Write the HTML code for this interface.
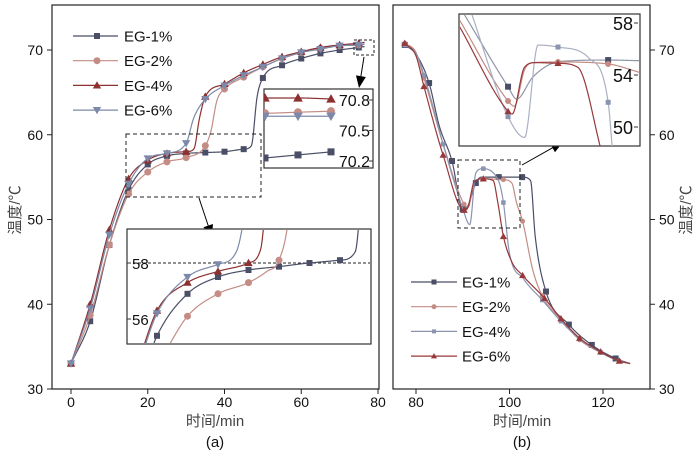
<!DOCTYPE html>
<html><head><meta charset="utf-8"><style>
html,body{margin:0;padding:0;background:#fff;}
svg{display:block;font-family:"Liberation Sans","Noto Sans CJK SC",sans-serif;}
</style></head><body>
<svg id="chart" width="700" height="453" viewBox="0 0 700 453" xmlns="http://www.w3.org/2000/svg">
<defs>
<clipPath id="clipA1"><rect x="264" y="90" width="109" height="77"/></clipPath>
<clipPath id="clipA2"><rect x="128" y="230" width="242" height="113"/></clipPath>
<clipPath id="clipB1"><rect x="460" y="15" width="180" height="131"/></clipPath>
</defs>
<g id="root"></g>
</svg>
<script>
// ---------- Panel (a) heating data ----------
const aTicksX = [0, 20, 40, 60, 80];
const aTicksY = [30, 40, 50, 60, 70];
const aMarkT = [0,5,10,15,20,25,30,35,40,45,50,55,60,65,70,75];
const a1T = [0,5,10,15,20,25,30,35,40,45,47,48.5,50,55,60,65,70,75,76.5];
const a1V = [33,38,47,53.5,56.5,57.5,57.8,57.9,58,58.3,58.7,64.5,66.7,68.2,69,69.6,70,70.3,70.4];
const a2T = [0,5,10,15,20,25,30,35,36.5,38,40,45,50,55,60,65,70,75,76.5];
const a2V = [33,38.7,47,53,55.6,56.8,57.3,58.7,60.5,64,65.4,66.8,68,69,69.7,70.2,70.5,70.6,70.7];
const a4T = [0,5,10,15,20,25,30,32,33.5,35,40,45,50,55,60,65,70,75,76.5];
const a4V = [33,40,48.8,54.8,57,57.8,58,58.3,62,64.5,66,67.3,68.3,69.2,69.8,70.3,70.6,70.8,70.9];
const a6T = [0,5,10,15,20,25,30,32,35,40,45,50,55,60,65,70,75,76.5];
const a6V = [33,39.5,48.2,54.2,57.2,57.8,59,62,64.2,65.8,67,68,69,69.7,70.1,70.5,70.6,70.7];
// inset a1 (around 70.2-70.8)
const i1Labels = [70.8, 70.5, 70.2];
const i1T = [72,73,74,75];
const i1V1 = [70.2,70.23,70.26,70.29];
const i1V2 = [70.67,70.67,70.68,70.69];
const i1V4 = [70.81,70.82,70.82,70.81];
const i1V6 = [70.63,70.64,70.64,70.64];
const i1Mark = [73,74,75];
// inset a2 (plateau)
const i2Labels = [58, 56];
const i2T1 = [18.5,20,25,30,35,40,45,50,52.5,53.5,54.5];
const i2V1 = [54.5,55.4,56.9,57.5,57.75,57.87,58.0,58.1,58.4,60.5,63];
const i2M1 = [20,25,30,35,40,45,50];
const i2T2 = [21,25,30,35,38,40,41.5,42.5];
const i2V2 = [54.7,56.1,56.9,57.3,57.7,58.1,59.5,62];
const i2M2 = [25,30,35,40];
const i2T4 = [17,20,25,30,35,37,38,39];
const i2V4 = [54.5,56.3,57.3,57.7,58.0,58.5,60.5,62];
const i2M4 = [20,25,30,35];
const i2T6 = [17.2,20,25,30,33,34.5,35.5];
const i2V6 = [54.5,56.2,57.5,57.95,58.4,60,62];
const i2M6 = [20,25,30];
// ---------- Panel (b) cooling data ----------
const bTicksX = [80, 100, 120];
const bTicksY = [30, 40, 50, 60, 70];
const b1T = [77.6,80,82.8,85,87.7,90,91,92.8,94,97.7,102.7,104.5,105.5,107.8,112.7,117.6,122.7,125.8];
const b1V = [70.6,69.5,66.1,61,56.9,51.2,51.5,54.3,55,55,55,54.6,48,41.5,37.6,35.2,33.6,33.0];
const b1M = [77.6,82.8,87.7,90,92.8,97.7,102.7,107.8,112.7,117.6,122.7];
const b2T = [77.6,80,81.7,85.8,90.3,91.2,92.5,94.4,98.7,100.5,101.5,102.8,105,107,111,115,119.5,123.5,125.8];
const b2V = [70.8,69.7,66.7,58.9,51.8,51.5,54.5,54.8,54.7,54.3,52,49.8,44,41,38.2,35.8,34.3,33.3,33.0];
const b2M = [77.6,81.7,85.8,90.3,94.4,98.7,102.8,107,111,115,119.5,123.5];
const b4T = [77.6,80,82,86,90,91.5,92.8,94.4,97,98,98.7,100,103,107,111,115,119.5,123,125.8];
const b4V = [70.6,69.6,66.5,58.5,51.3,49.4,55.5,56.0,55.2,54,52,46,43,40.5,38,35.9,34.3,33.4,33.0];
const b4M = [77.6,81.7,85.8,94.4,98.7,107,111,115,119.5];
const b6T = [77.6,80,81.7,85.8,90.3,91,92.5,94.4,96.5,97.5,98.7,100.5,102.8,107.5,111,115,119.5,123.5,125.8];
const b6V = [70.8,69.3,65.7,57.6,51.1,51.3,54.5,54.8,54.6,52,48,45,43.4,40.7,38.3,36,34.4,33.3,33.0];
const b6M = [77.6,81.7,85.8,90.3,94.4,98.7,102.8,107.5,111,115,119.5,123.5];
// inset b1
const j1Labels = [58, 54, 50];
const j1T = [88.3,92.34,93.1,94.5,96,98,101.2,104];
const j1V = [58.9,53.1,52.15,53.8,54.8,55.1,55.15,55.1];
const j1M = [92.34,101.2];
const j2T = [88,92.34,92.9,93.8,94.6,96.76,101.2,104];
const j2V = [58.3,52.0,51.6,54.4,54.95,55.0,54.85,54.2];
const j2M = [92.34,96.76,101.2];
const j4T = [89,92.34,93.8,95.0,96.76,99.5,101.2,101.6];
const j4V = [59,50.8,49.2,56.3,56.15,55.3,51.9,48];
const j4M = [92.34,96.76,101.2];
const j6T = [88,92.34,92.7,93.8,94.8,96.76,98.5,100.65];
const j6V = [57.8,51.2,51.0,54.6,54.95,54.9,54.6,48];
const j6M = [92.34,96.76];

const C1='#4a4e66', C2='#c48c84', C4='#8c3030', C6='#7d89aa', C4b='#8a93b0', C6b='#98383a';
const NS='http://www.w3.org/2000/svg';
const root=document.getElementById('root');
function el(tag,attrs,parent){const e=document.createElementNS(NS,tag);for(const k in attrs)e.setAttribute(k,attrs[k]);(parent||root).appendChild(e);return e;}
function spline(xs,ys){
  const n=xs.length,d=[],m=[];
  for(let i=0;i<n-1;i++)d.push((ys[i+1]-ys[i])/(xs[i+1]-xs[i]));
  m[0]=d[0];m[n-1]=d[n-2];
  for(let i=1;i<n-1;i++){m[i]=(d[i-1]*d[i]<=0)?0:(d[i-1]+d[i])/2;}
  for(let i=0;i<n-1;i++){if(d[i]===0){m[i]=0;m[i+1]=0;continue;}const a=m[i]/d[i],b=m[i+1]/d[i],s=a*a+b*b;if(s>9){const t=3/Math.sqrt(s);m[i]=t*a*d[i];m[i+1]=t*b*d[i];}}
  return function(x){let i=0;while(i<n-2&&x>xs[i+1])i++;const h=xs[i+1]-xs[i],t=(x-xs[i])/h,t2=t*t,t3=t2*t;
    return (2*t3-3*t2+1)*ys[i]+(t3-2*t2+t)*h*m[i]+(-2*t3+3*t2)*ys[i+1]+(t3-t2)*h*m[i+1];};
}
function marker(g,type,x,y,c,s){
  let e;
  if(type==='sq')e=el('rect',{x:x-s/2,y:y-s/2,width:s,height:s,fill:c},g);
  else if(type==='ci')e=el('circle',{cx:x,cy:y,r:s/2,fill:c},g);
  else if(type==='up')e=el('path',{d:`M${x},${y-s*0.6}L${x+s*0.6},${y+s*0.45}L${x-s*0.6},${y+s*0.45}Z`,fill:c},g);
  else e=el('path',{d:`M${x},${y+s*0.6}L${x+s*0.6},${y-s*0.45}L${x-s*0.6},${y-s*0.45}Z`,fill:c},g);
  
  
}
function arrow(x1,y1,x2,y2,name){
  const g=el('g',{});
  
  
  const dx=x2-x1,dy=y2-y1,L=Math.hypot(dx,dy),ux=dx/L,uy=dy/L,h=12,w=5;
  const bx=x2-ux*h,by=y2-uy*h;
  el('line',{x1:x1,y1:y1,x2:bx,y2:by,stroke:'#000','stroke-width':1},g);
  el('path',{d:`M${x2},${y2}L${bx-uy*w},${by+ux*w}L${bx+uy*w},${by-ux*w}Z`,fill:'#000'},g);
}
function series(name,xs,ys,mts,sx,sy,c,type,ms,clip,lc){
  const g=el('g',clip?{'clip-path':'url(#'+clip+')'}:{});
  
  
  const f=spline(xs,ys);let d='';
  const x0=xs[0],x1=xs[xs.length-1],N=400;
  for(let k=0;k<=N;k++){const x=x0+(x1-x0)*k/N;d+=(k?'L':'M')+sx(x).toFixed(2)+','+sy(f(x)).toFixed(2);}
  const p=el('path',{d:d,fill:'none',stroke:lc||c,'stroke-width':1.2},g);
  
  
  mts.forEach(t=>marker(g,type,sx(t),sy(f(t)),c,ms));
}
function text(str,x,y,size,anchor,name,extra){
  const t=el('text',Object.assign({x:x,y:y,'font-size':size,'text-anchor':anchor||'middle',fill:'#111'},extra||{}));
  t.textContent=str;
  
  
  return t;
}
const yS=T=>389-(T-30)*8.475;
const xA=t=>71+t*3.8375;
const xB=t=>416+(t-80)*4.675;

// ----- Panel a -----
let f=el('rect',{x:52,y:5,width:327,height:384,fill:'none',stroke:'#222','stroke-width':1.2});

aTicksX.forEach(v=>{el('line',{x1:xA(v),x2:xA(v),y1:389,y2:394,stroke:'#222'});text(String(v),xA(v),407,14,'middle','x-tick-label-a');});
aTicksY.forEach(v=>{el('line',{x1:47,x2:52,y1:yS(v),y2:yS(v),stroke:'#222'});text(String(v),43,yS(v)+5,14,'end','y-tick-label-a');});
text('时间/min',215,426,15,'middle','x-axis-title-a',{fill:'#444'});
text('(a)',215,447,15,'middle','panel-a-caption');
text('温度/℃',20,210,15,'middle','y-axis-title-a',{transform:'rotate(-90 20 210)',fill:'#444'});
series('series-eg1-a',a1T,a1V,aMarkT,xA,yS,C1,'sq',6);
series('series-eg2-a',a2T,a2V,aMarkT,xA,yS,C2,'ci',7);
series('series-eg4-a',a4T,a4V,aMarkT,xA,yS,C4,'up',7);
series('series-eg6-a',a6T,a6V,aMarkT,xA,yS,C6,'dn',7);
[['EG-1%',C1,'sq',6],['EG-2%',C2,'ci',7],['EG-4%',C4,'up',7],['EG-6%',C6,'dn',7]].forEach((L,i)=>{
  const y=36+i*24.7;
  const g=el('g',{});
  el('line',{x1:73,x2:118,y1:y,y2:y,stroke:L[1],'stroke-width':1.2},g);
  marker(g,L[2],97,y,L[1],L[3]);
  const t=el('text',{x:124,y:y+5.5,'font-size':15,fill:'#111'},g);t.textContent=L[0];
});
el('rect',{x:354,y:40,width:20,height:15,fill:'none',stroke:'#222','stroke-dasharray':'3,2'});
arrow(364,57,359,88,'zoom-arrow-a1');
el('rect',{x:126,y:134,width:135,height:63,fill:'none',stroke:'#222','stroke-dasharray':'4,3'});
arrow(199,198,212,237,'zoom-arrow-a2');
// inset a1
el('rect',{x:264,y:89,width:109,height:79,fill:'#fff',stroke:'#333','stroke-width':1.2});
const xI1=t=>265+(t-73)*33, yI1=T=>100+(70.8-T)*101.7;
series('inset-a1-eg1',i1T,i1V1,i1Mark,xI1,yI1,C1,'sq',7,'clipA1');
series('inset-a1-eg2',i1T,i1V2,i1Mark,xI1,yI1,C2,'ci',8,'clipA1');
series('inset-a1-eg4',i1T,i1V4,i1Mark,xI1,yI1,C4,'up',8,'clipA1');
series('inset-a1-eg6',i1T,i1V6,i1Mark,xI1,yI1,C6,'dn',8,'clipA1');
i1Labels.forEach(v=>{const y=yI1(v);el('line',{x1:369,x2:373,y1:y,y2:y,stroke:'#333'});text(v.toFixed(1),370,y+6,16,'end','inset-a1-tick');});
// inset a2
el('rect',{x:127,y:229,width:244,height:115,fill:'#fff',stroke:'#333','stroke-width':1.2});
const xI2=t=>157+(t-20)*6.1, yI2=T=>263-(T-58)*28;
el('line',{x1:128,x2:370,y1:yI2(58),y2:yI2(58),stroke:'#222','stroke-dasharray':'3,2'});
series('inset-a2-eg1',i2T1,i2V1,i2M1,xI2,yI2,C1,'sq',6,'clipA2');
series('inset-a2-eg2',i2T2,i2V2,i2M2,xI2,yI2,C2,'ci',7,'clipA2');
series('inset-a2-eg4',i2T4,i2V4,i2M4,xI2,yI2,C4,'up',7,'clipA2');
series('inset-a2-eg6',i2T6,i2V6,i2M6,xI2,yI2,C6,'dn',7,'clipA2');
i2Labels.forEach(v=>{const y=yI2(v);el('line',{x1:127,x2:131,y1:y,y2:y,stroke:'#333'});text(String(v),132,y+6,15,'start','inset-a2-tick');});

// ----- Panel b -----
f=el('rect',{x:393,y:5,width:257,height:384,fill:'none',stroke:'#222','stroke-width':1.2});

bTicksX.forEach(v=>{el('line',{x1:xB(v),x2:xB(v),y1:389,y2:394,stroke:'#222'});text(String(v),xB(v),407,14,'middle','x-tick-label-b');});
bTicksY.forEach(v=>{el('line',{x1:650,x2:655,y1:yS(v),y2:yS(v),stroke:'#222'});text(String(v),659,yS(v)+5,14,'start','y-tick-label-b');});
text('时间/min',522,426,15,'middle','x-axis-title-b',{fill:'#444'});
text('(b)',522,447,15,'middle','panel-b-caption');
text('温度/℃',691,210,15,'middle','y-axis-title-b',{transform:'rotate(-90 691 210)',fill:'#444'});
series('series-eg1-b',b1T,b1V,b1M,xB,yS,C1,'sq',6);
series('series-eg2-b',b2T,b2V,b2M,xB,yS,C2,'ci',5);
series('series-eg4-b',b4T,b4V,b4M,xB,yS,C4b,'sq',4.5);
series('series-eg6-b',b6T,b6V,b6M,xB,yS,C6b,'up',6);
[['EG-1%',C1,'sq',5],['EG-2%',C2,'ci',5],['EG-4%',C4b,'sq',4],['EG-6%',C6b,'up',5]].forEach((L,i)=>{
  const y=282+i*24.7;
  const g=el('g',{});
  el('line',{x1:411,x2:457,y1:y,y2:y,stroke:L[1],'stroke-width':1.2},g);
  marker(g,L[2],434,y,L[1],L[3]);
  const t=el('text',{x:462,y:y+5.5,'font-size':15,fill:'#111'},g);t.textContent=L[0];
});
el('rect',{x:458,y:160,width:62,height:68,fill:'none',stroke:'#222','stroke-dasharray':'4,3'});
arrow(522,165,563,142,'zoom-arrow-b');
// inset b1
el('rect',{x:459,y:14,width:181,height:132,fill:'#fff',stroke:'#333','stroke-width':1.2});
const xJ=t=>459+(t-88)*11.3, yJ=T=>23+(58-T)*13;
series('inset-b-eg1',j1T,j1V,j1M,xJ,yJ,C1,'sq',6,'clipB1','#9096a8');
series('inset-b-eg2',j2T,j2V,j2M,xJ,yJ,C2,'ci',6,'clipB1');
series('inset-b-eg4',j4T,j4V,j4M,xJ,yJ,C4b,'sq',5,'clipB1','#aab0c2');
series('inset-b-eg6',j6T,j6V,j6M,xJ,yJ,C6b,'up',6,'clipB1');
j1Labels.forEach(v=>{const y=yJ(v);el('line',{x1:634,x2:638,y1:y,y2:y,stroke:'#333'});text(String(v),633,y+7,18,'end','inset-b-tick');});
</script>
</body></html>
